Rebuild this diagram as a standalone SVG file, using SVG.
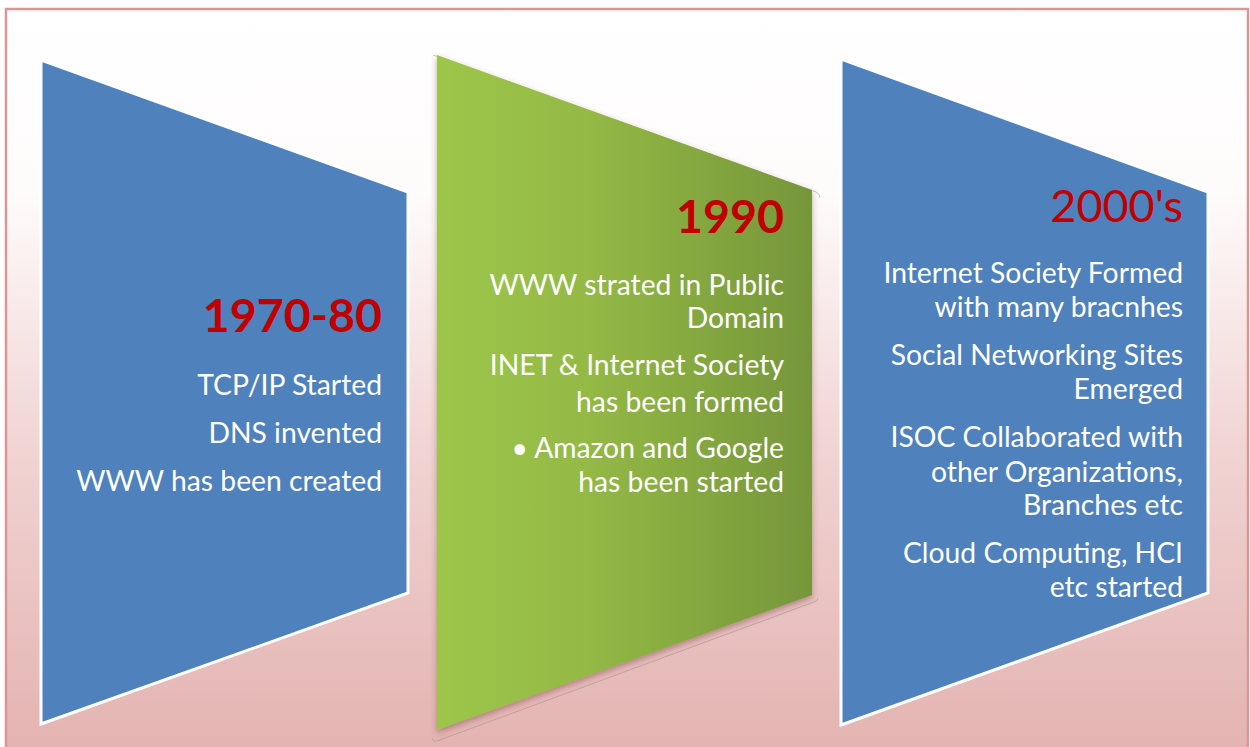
<svg xmlns="http://www.w3.org/2000/svg" width="1250" height="747" viewBox="0 0 1250 747">
  <defs>
    <linearGradient id="bg" x1="0" y1="0" x2="0" y2="1">
      <stop offset="0" stop-color="#ffffff"/>
      <stop offset="0.25" stop-color="#fefbfb"/>
      <stop offset="0.6" stop-color="#f0d3d2"/>
      <stop offset="1" stop-color="#e3b3b1"/>
    </linearGradient>
    <linearGradient id="green" x1="0" y1="0" x2="1" y2="0">
      <stop offset="0" stop-color="#9dc64a"/>
      <stop offset="0.4" stop-color="#94b945"/>
      <stop offset="1" stop-color="#76963a"/>
    </linearGradient>
    <filter id="shadow" x="-10%" y="-10%" width="120%" height="120%">
      <feDropShadow dx="0" dy="3" stdDeviation="3" flood-color="#6e3c3c" flood-opacity="0.45"/>
    </filter>
    <style>
      .blue { fill: #4f81bd; stroke: #ffffff; stroke-width: 3; stroke-linejoin: miter; }
      .body { font-family: Lato, "Open Sans", sans-serif; font-size: 28.3px; fill: #ffffff; text-anchor: end; }
      .year { font-family: Lato, "Open Sans", sans-serif; fill: #c00000; text-anchor: end; }
      .yb { font-size: 46.5px; font-weight: bold; }
      .yr { font-size: 45px; }
    </style>
  </defs>

  <rect x="6" y="9" width="1242" height="745" fill="url(#bg)" stroke="#d99694" stroke-width="2.5"/>

  <g id="node-1970-80">
    <polygon class="blue" points="41,60 408,192 408,593 41,724"/>
    <text class="year yb" x="382" y="332">1970-80</text>
    <text class="body" x="382" y="395">TCP/IP Started</text>
    <text class="body" x="382" y="443">DNS invented</text>
    <text class="body" x="382" y="491">WWW has been created</text>
  </g>

  <g id="node-1990">
    <path d="M433,55 L816,192 Q820,194 820,198 M818,598 Q818,601 814,602 L437,741 Q433,742 432,738" fill="none" stroke="#9a8c8c" stroke-width="0.7" opacity="0.7"/>
    <polygon points="437,55 812,190 812,595 437,730" fill="url(#green)" filter="url(#shadow)"/>
    <text class="year yb" x="784" y="233">1990</text>
    <text class="body" x="784" y="295">WWW strated in Public</text>
    <text class="body" x="784" y="328">Domain</text>
    <text class="body" x="784" y="375">INET &amp; Internet Society</text>
    <text class="body" x="784" y="412">has been formed</text>
    <text class="body" x="784" y="458">• Amazon and Google</text>
    <text class="body" x="784" y="492">has been started</text>
  </g>

  <g id="node-2000s">
    <polygon class="blue" points="841,59 1208,192 1208,593 841,725"/>
    <text class="year yr" x="1183" y="222">2000's</text>
    <text class="body" x="1183" y="283">Internet Society Formed</text>
    <text class="body" x="1183" y="317">with many bracnhes</text>
    <text class="body" x="1183" y="365">Social Networking Sites</text>
    <text class="body" x="1183" y="399">Emerged</text>
    <text class="body" x="1183" y="447">ISOC Collaborated with</text>
    <text class="body" x="1183" y="482">other Organizations,</text>
    <text class="body" x="1183" y="515">Branches etc</text>
    <text class="body" x="1183" y="563">Cloud Computing, HCI</text>
    <text class="body" x="1183" y="597">etc started</text>
  </g>

  <g id="connectors"/>
</svg>
